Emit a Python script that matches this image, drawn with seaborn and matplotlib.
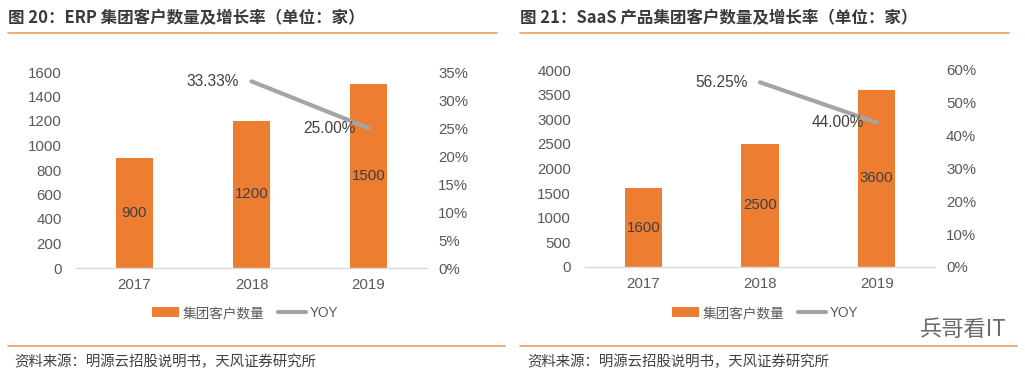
import numpy as np
import pandas as pd
import seaborn as sns
import matplotlib
matplotlib.use("Agg")
import matplotlib.pyplot as plt
from matplotlib.patches import Patch
from matplotlib.lines import Line2D

# ---- data ----
years = ["2017", "2018", "2019"]
erp_clients = [900, 1200, 1500]
erp_yoy = [np.nan, 0.3333, 0.25]
saas_clients = [1600, 2500, 3600]
saas_yoy = [np.nan, 0.5625, 0.44]
titles = ["图 20：ERP 集团客户数量及增长率（单位：家）",
          "图 21：SaaS 产品集团客户数量及增长率（单位：家）"]
legend_labels = ["集团客户数量", "YOY"]
source_text = "资料来源：明源云招股说明书，天风证券研究所"
left_ticks = [list(range(0, 1601, 200)), list(range(0, 4001, 500))]
right_ticks = [np.arange(0, 0.351, 0.05), np.arange(0, 0.61, 0.10)]

sns.set_theme(style="white")
plt.rcParams['font.family'] = ['Liberation Sans', 'Noto Sans CJK SC', 'DejaVu Sans']
CJK = ['Noto Sans CJK SC', 'DejaVu Sans']

W, H = 1025, 381
fig = plt.figure(figsize=(W / 100, H / 100), dpi=100)

BAR = "#ED7D31"
LINE = "#A5A5A5"
TICK = "#595959"
ORANGE_RULE = "#E3A25E"

def px(x0, y_top, x1, y_bot):
    return [x0 / W, 1 - y_bot / H, (x1 - x0) / W, (y_bot - y_top) / H]

panels = [
    dict(ax=px(76, 72, 427, 268), clients=erp_clients, yoy=erp_yoy,
         yl=(0, 1600), yr=(0, 0.35), xoff=0),
    dict(ax=px(585, 70, 935, 267), clients=saas_clients, yoy=saas_yoy,
         yl=(0, 4000), yr=(0, 0.60), xoff=512),
]

FS = 10.8

for i, p in enumerate(panels):
    df = pd.DataFrame({"year": years, "clients": p["clients"], "yoy": p["yoy"],
                       "pos": np.arange(len(years))})
    ax = fig.add_axes(p["ax"])
    sns.barplot(data=df, x="year", y="clients", color=BAR, width=0.32,
                saturation=1, ax=ax, edgecolor="none")
    ax.set_xlim(-0.5, 2.5)
    ax.set_ylim(*p["yl"])
    ax.set_yticks(left_ticks[i])
    ax.set_xlabel("")
    ax.set_ylabel("")
    for s in ["top", "left", "right"]:
        ax.spines[s].set_visible(False)
    ax.spines["bottom"].set_color("#D9D9D9")
    ax.spines["bottom"].set_linewidth(1)
    ax.tick_params(axis="y", length=0, pad=10, labelsize=FS, labelcolor=TICK)
    ax.tick_params(axis="x", length=0, pad=7, labelsize=FS, labelcolor=TICK)
    for c in ax.containers:
        ax.bar_label(c, labels=[str(v) for v in p["clients"]], label_type="center",
                     fontsize=FS, color="#404040")

    ax2 = ax.twinx()
    sns.lineplot(data=df, x="pos", y="yoy", color=LINE, linewidth=3, ax=ax2)
    ax2.set_ylim(*p["yr"])
    ax2.set_yticks(right_ticks[i])
    ax2.set_yticklabels([f"{int(round(t * 100))}%" for t in right_ticks[i]])
    ax2.set_ylabel("")
    ax2.set_xlabel("")
    ax2.set_xlim(-0.5, 2.5)
    for s in ["top", "left", "right", "bottom"]:
        ax2.spines[s].set_visible(False)
    ax2.tick_params(axis="y", length=0, pad=8, labelsize=FS, labelcolor=TICK)
    for x, v in zip(df["pos"], df["yoy"]):
        if not np.isnan(v):
            ax2.annotate(f"{v * 100:.2f}%", (x, v), xytext=(-9, 0),
                         textcoords="offset points", ha="right", va="center",
                         fontsize=11.2, color="#404040")

    xo = p["xoff"]
    # title
    fig.text((8 + xo) / W, 1 - 18 / H, titles[i], fontsize=11.9, fontweight="bold",
             color="#3A3A3A", va="center", ha="left", family=CJK)
    # rules
    fig.add_artist(Line2D([(8 + xo) / W, (497 + xo) / W], [1 - 33 / H] * 2,
                          color=ORANGE_RULE, lw=1.2))
    fig.add_artist(Line2D([(8 + xo) / W, (505 + xo) / W], [1 - 346 / H] * 2,
                          color=ORANGE_RULE, lw=1.2))
    # legend
    handles = [Patch(facecolor=BAR, edgecolor="none"),
               Line2D([0], [0], color=LINE, lw=3)]
    fig.legend(handles, legend_labels, loc="center",
               bbox_to_anchor=((245 + xo + (8 if i else 0)) / W, 1 - 313 / H),
               ncol=2, frameon=False, fontsize=9.8, handlelength=2.0,
               handletextpad=0.3, columnspacing=1.0,
               labelcolor="#595959")
    # source
    fig.text((14 + xo + (1 if i else 0)) / W, 1 - 362 / H, source_text,
             fontsize=10.4, color="#404040", va="center", ha="left", family=CJK)

# watermark
fig.text(963 / W, 1 - 330 / H, "兵哥看IT", fontsize=16, color="#6A6A6A",
         va="center", ha="center", family=CJK)

fig.savefig("out.png", dpi=100)
